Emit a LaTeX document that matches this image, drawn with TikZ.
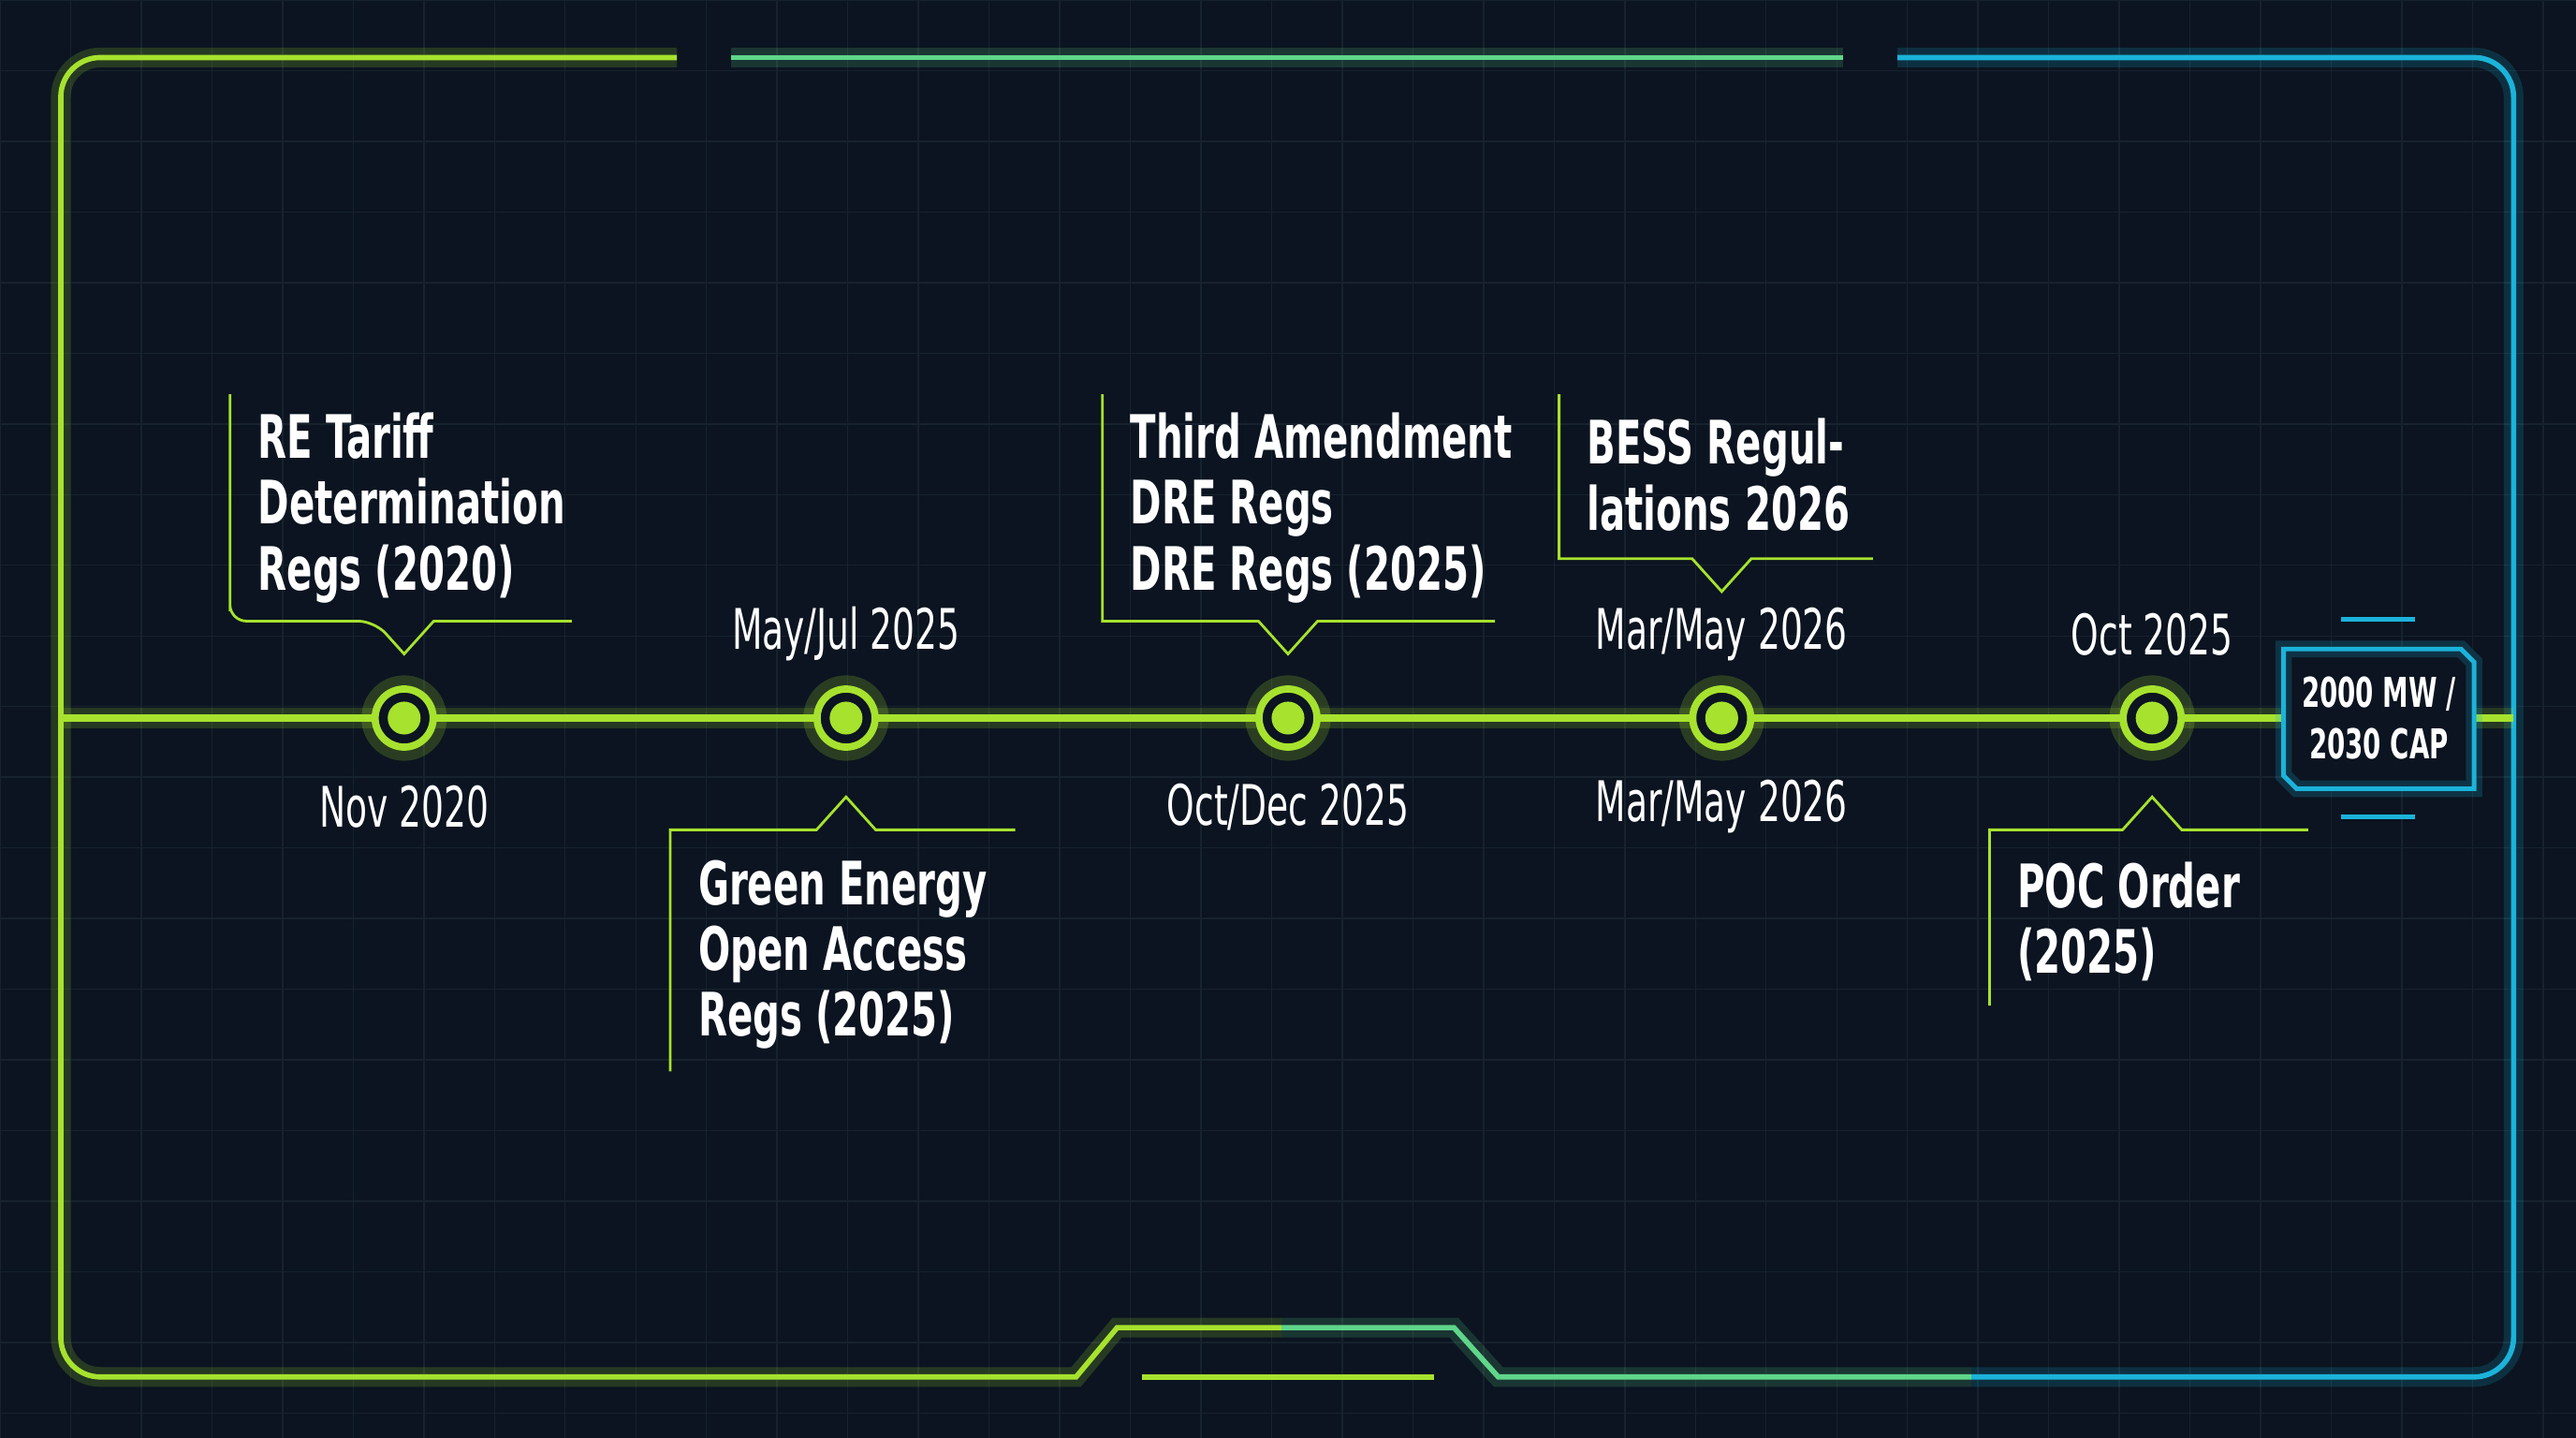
\documentclass[tikz,border=0pt]{standalone}
\usepackage{fontspec}
\setmainfont[FakeStretch=0.7]{DejaVu Sans Condensed}
\usetikzlibrary{positioning}
\definecolor{bgc}{HTML}{0B1420}
\definecolor{lime}{HTML}{A6E22E}
\definecolor{midg}{HTML}{5FD68A}
\definecolor{cyanc}{HTML}{1BB3DA}
\definecolor{gridc}{HTML}{16222E}
\begin{document}
\begin{tikzpicture}[x=0.01755cm,y=-0.01755cm]
	\tikzstyle{glow} = [line width=6pt, opacity=0.18]
	\tikzstyle{frame} = [line width=1.6pt]
	\tikzstyle{callout} = [draw=lime, line width=0.8pt]
	\tikzstyle{title} = [anchor=west, text=white, font=\fontsize{18.2}{20}\selectfont\bfseries]
	\tikzstyle{date} = [text=white, font=\fontsize{17}{17}\selectfont]
	\tikzstyle{milestone} = [circle, draw=lime, line width=2.2pt, fill=bgc, minimum size=0.62cm, inner sep=0pt]
	\fill[bgc] (0,0) rectangle (1568,875);
	\useasboundingbox (0,0) rectangle (1568,875);
	% grid
	\foreach \gx in {0,43,...,1568} \draw[gridc, line width=0.4pt] (\gx,0) -- (\gx,875);
	\foreach \gy in {0,43,...,875} \draw[gridc, line width=0.4pt] (0,\gy) -- (1568,\gy);
	% frame
	\foreach \st in {glow,frame} {
		\draw[lime, \st, rounded corners=12] (412,35) -- (37,35) -- (37,838) -- (600,838);
		\draw[lime, \st] (600,838) -- (655,838) -- (680,808) -- (780,808);
		\draw[midg, \st] (445,35) -- (1122,35);
		\draw[midg, \st] (780,808) -- (885,808) -- (912,838) -- (1200,838);
		\draw[cyanc, \st, rounded corners=12] (1155,35) -- (1530,35) -- (1530,838) -- (1200,838);
	}
	\draw[lime, line width=1.6pt] (695,838) -- (873,838);
	% timeline
	\draw[lime, glow] (37,437) -- (1530,437);
	\draw[lime, line width=2pt] (37,437) -- (1530,437);
	\foreach \name/\px in {m1/246, m2/515, m3/784, m4/1048, m5/1310} {
		\fill[lime, opacity=0.2] (\px,437) circle (26);
		\node (\name) [milestone] at (\px,437) {};
		\fill[lime] (\px,437) circle (10);
	}
	% callouts
	\draw[callout] (140,240) -- (140,372) [rounded corners=5] -- (140,378) -- (228,378) [sharp corners] -- (246,398) -- (264,378) -- (348,378);
	\draw[callout] (408,652) -- (408,505) -- (497,505) -- (515,485) -- (533,505) -- (618,505);
	\draw[callout] (671,240) -- (671,378) -- (766,378) -- (784,398) -- (802,378) -- (910,378);
	\draw[callout] (949,240) -- (949,340) -- (1030,340) -- (1048,360) -- (1066,340) -- (1140,340);
	\draw[callout] (1211,612) -- (1211,505) -- (1292,505) -- (1310,485) -- (1328,505) -- (1405,505);
	\node (t1) [title, align=left] at (150,309) {RE Tariff\\Determination\\Regs (2020)};
	\node (t2) [title, align=left] at (418,581) {Green Energy\\Open Access\\Regs (2025)};
	\node (t3) [title, align=left] at (681,309) {Third Amendment\\DRE Regs\\DRE Regs (2025)};
	\node (t4) [title, align=left] at (959,289) {BESS Regul-\\lations 2026};
	\node (t5) [title, align=left] at (1221,561) {POC Order\\(2025)};
	% dates
	\node (d2) [date] at (515,386) {May/Jul 2025};
	\node (d4) [date] at (1048,386) {Mar/May 2026};
	\node (d5) [date] at (1310,386) {Oct 2025};
	\node (d1) [date] at (246,491) {Nov 2020};
	\node (d3) [date] at (784,491) {Oct/Dec 2025};
	\node (d6) [date] at (1048,491) {Mar/May 2026};
	% cap box
	\fill[bgc] (1390,395) rectangle (1506,480);
	\draw[cyanc, line width=5pt, opacity=0.2] (1390,395) -- (1498,395) -- (1506,403) -- (1506,480) -- (1398,480) -- (1390,472) -- cycle;
	\draw[cyanc, line width=1.4pt] (1390,395) -- (1498,395) -- (1506,403) -- (1506,480) -- (1398,480) -- (1390,472) -- cycle;
	\node (cap) [text=white, align=center, font=\fontsize{12.5}{15.5}\selectfont\bfseries] at (1448,437) {2000 MW /\\2030 CAP};
	\draw[cyanc, line width=1.4pt] (1425,377) -- (1470,377);
	\draw[cyanc, line width=1.4pt] (1425,497) -- (1470,497);
\end{tikzpicture}
\end{document}
